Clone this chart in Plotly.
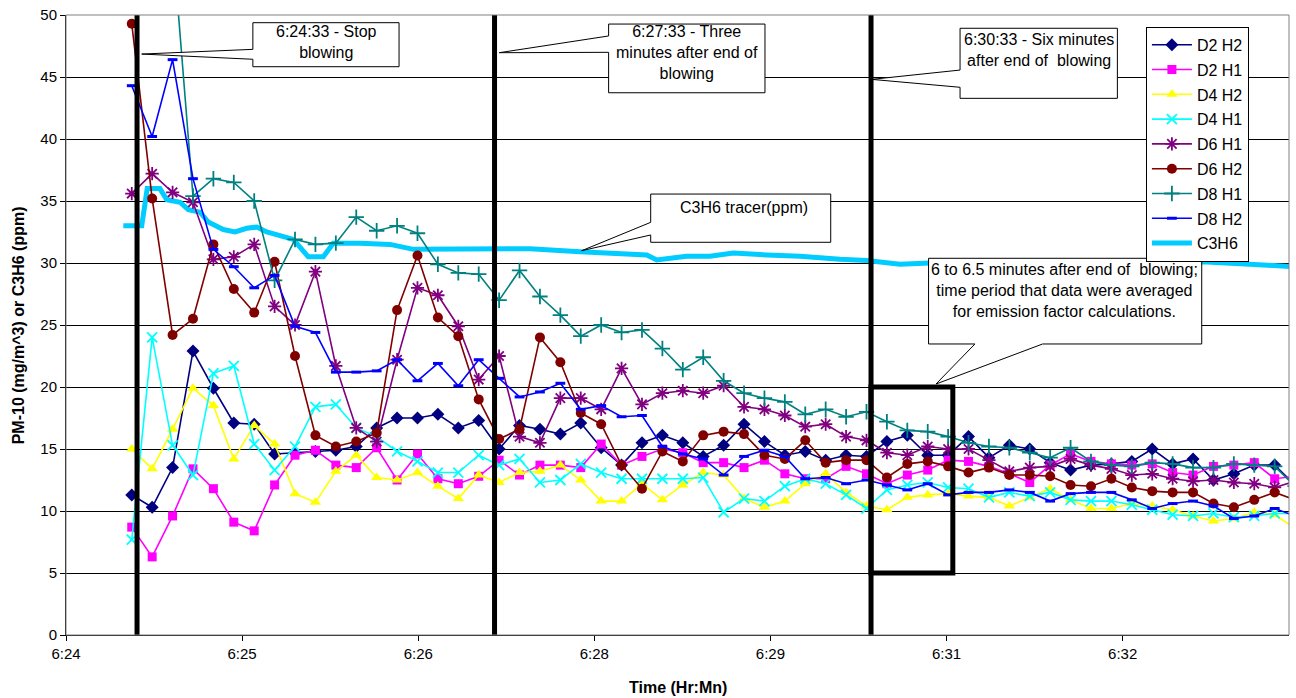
import plotly.graph_objects as go

# ---- sampling schedule (seconds after 6:24:00) ----
start_s = 33.6
step_s = 10.43

# ---- series values (PM-10 mg/m^3), one reading per sample ----
d2_h2 = [11.3, 10.3, 13.5, 22.9, 19.9, 17.1, 17.0, 14.6, 14.7, 14.8,
         14.9, 15.2, 16.7, 17.5, 17.5, 17.8, 16.7, 17.3, 15.0, 16.9,
         16.6, 16.2, 17.1, 15.1, 13.7, 15.5, 16.1, 15.5, 14.4, 15.3,
         17.0, 15.6, 14.5, 14.8, 14.1, 14.5, 14.4, 15.6, 16.1, 14.5,
         14.5, 16.0, 14.3, 15.3, 15.0, 13.9, 13.3, 13.7, 13.8, 14.0,
         15.0, 13.8, 14.2, 12.5, 13.0, 13.7, 13.7, 12.1]
d2_h1 = [8.7, 6.3, 9.6, 13.4, 11.8, 9.1, 8.4, 12.1, 14.5, 14.9,
         13.7, 13.5, 15.1, 12.5, 14.6, 12.6, 12.2, 12.8, 14.1, 12.9,
         13.7, 13.7, 13.5, 15.4, 13.7, 14.4, 15.0, 14.7, 13.9, 13.9,
         13.5, 14.1, 13.0, 12.6, 12.6, 13.6, 13.0, 12.2, 12.9, 13.3,
         14.1, 14.0, 13.6, 13.0, 12.3, 13.7, 14.6, 14.0, 13.8, 13.7,
         13.8, 13.1, 12.9, 13.6, 13.7, 13.9, 12.6, 12.8]
d4_h2 = [15.0, 13.4, 16.6, 19.9, 18.5, 14.2, 16.9, 15.4, 11.4, 10.7,
         13.2, 14.5, 12.7, 12.5, 13.1, 12.0, 11.0, 12.9, 12.3, 13.1,
         13.2, 13.7, 12.5, 10.8, 10.8, 12.2, 10.9, 12.1, 13.1, 12.9,
         11.0, 10.3, 10.8, 12.2, 13.0, 11.5, 10.4, 10.1, 11.1, 11.3,
         11.4, 11.2, 11.1, 10.4, 11.1, 11.8, 10.9, 10.2, 10.2, 10.6,
         10.4, 10.1, 9.6, 9.2, 9.4, 9.9, 9.7, 8.6]
d4_h1 = [7.7, 24.0, 15.3, 12.9, 21.1, 21.7, 15.4, 13.3, 15.2, 18.4,
         18.6, 16.7, 16.0, 14.8, 14.0, 13.1, 13.1, 14.5, 13.7, 14.2,
         12.3, 12.5, 13.8, 13.1, 12.6, 12.6, 12.6, 12.6, 12.7, 9.9,
         11.0, 10.8, 12.0, 12.6, 12.2, 11.3, 10.2, 11.7, 12.1, 12.3,
         11.9, 11.8, 11.1, 11.5, 11.2, 11.5, 10.9, 10.8, 10.8, 10.5,
         10.1, 9.7, 9.6, 9.8, 9.5, 9.6, 9.8, 9.8]
d6_h1 = [35.6, 37.2, 35.7, 34.9, 30.3, 30.5, 31.5, 26.5, 25.0, 29.3,
         21.7, 16.7, 15.6, 22.2, 28.0, 27.4, 24.9, 20.6, 22.5, 16.0,
         15.5, 19.1, 19.1, 18.2, 21.5, 18.6, 19.5, 19.7, 19.5, 20.1,
         18.4, 18.2, 17.7, 16.8, 17.0, 16.0, 15.7, 14.7, 14.5, 15.2,
         15.0, 15.0, 14.1, 13.2, 13.5, 13.6, 14.2, 13.7, 13.4, 12.9,
         13.0, 12.6, 12.4, 12.5, 12.3, 12.2, 11.9, 12.4]
d6_h2 = [49.3, 35.2, 24.2, 25.5, 31.5, 27.9, 26.0, 30.1, 22.5, 16.1,
         15.2, 15.6, 16.3, 26.2, 30.6, 25.6, 24.1, 19.0, 15.8, 16.6,
         24.0, 22.0, 17.9, 17.0, 13.7, 11.8, 14.8, 14.0, 16.1, 16.4,
         16.2, 14.5, 14.2, 15.7, 13.9, 14.1, 14.1, 12.7, 13.8, 14.0,
         13.6, 13.1, 13.5, 12.9, 12.9, 12.8, 12.1, 12.0, 12.6, 11.9,
         11.6, 11.5, 11.5, 10.6, 10.3, 10.9, 11.5, 10.9]
d8_h1 = [None, None, 56.0, 35.4, 36.8, 36.5, 35.0, 28.6, 31.9, 31.5,
         31.6, 33.7, 32.6, 33.0, 32.4, 29.9, 29.2, 29.1, 27.0, 29.4,
         27.3, 25.8, 24.1, 25.0, 24.4, 24.6, 23.1, 21.4, 22.4, 20.5,
         19.5, 19.1, 18.8, 17.8, 18.2, 17.6, 18.0, 17.2, 16.5, 16.4,
         16.0, 15.5, 15.2, 15.1, 14.7, 14.3, 15.1, 14.0, 13.7, 13.6,
         13.9, 13.8, 13.5, 13.5, 13.8, 13.7, 13.6, 12.0]
d8_h2 = [44.3, 40.2, 46.4, 36.8, 31.1, 29.7, 28.0, 29.0, 24.9, 24.4,
         21.2, 21.2, 21.3, 22.2, 20.5, 21.9, 20.1, 22.2, 20.7, 19.2,
         19.6, 20.3, 18.2, 18.5, 17.6, 17.7, 15.2, 14.6, 14.2, 12.9,
         14.4, 14.9, 14.4, 12.6, 12.7, 12.2, 12.5, 12.1, 11.7, 12.2,
         11.3, 11.5, 11.5, 11.7, 11.5, 10.8, 11.4, 11.5, 11.5, 10.9,
         10.2, 10.6, 10.8, 10.4, 9.4, 9.6, 10.2, 9.6]

# ---- C3H6 tracer (ppm), its own time base (seconds after 6:24:00) ----
c3h6_t = [29.3, 38.7, 41.5, 48.0, 51.5, 58.3, 62.5, 68.5, 72.7, 80.4,
          86.4, 92.3, 97.5, 102.6, 116.2, 123.8, 131.5, 136.6, 150.2, 165.6,
          177.5, 216.7, 237.1, 262.7, 296.8, 301.9, 308.7, 317.2, 329.1, 341.0,
          358.1, 375.1, 395.5, 409.2, 426.2, 441.5, 554.0, 580.4, 605.0, 628.0]
c3h6 = [33.0, 33.0, 36.0, 36.0, 35.1, 34.9, 34.3, 34.1, 33.3, 32.7,
        32.5, 32.8, 32.9, 32.5, 31.9, 30.5, 30.5, 31.6, 31.6, 31.5,
        31.1, 31.1, 31.15, 30.9, 30.65, 30.25, 30.4, 30.55, 30.55, 30.8,
        30.65, 30.55, 30.3, 30.2, 29.9, 30.0, 30.0, 30.1, 29.9, 29.7]

# ---- axis ticks ----
tick_s = [0, 90, 180, 270, 360, 450, 540]
tick_labels = ["6:24", "6:25", "6:26", "6:28", "6:29", "6:31", "6:32"]

FONT = "Liberation Sans, Arial, sans-serif"

n = len(d2_h2)
t = [start_s + step_s * i for i in range(n)]

series = [
    ("D2 H2", d2_h2, "#000080", "diamond", 10, False),
    ("D2 H1", d2_h1, "#FF00FF", "square", 9, False),
    ("D4 H2", d4_h2, "#FFFF00", "triangle-up", 10, False),
    ("D4 H1", d4_h1, "#00FFFF", "x-thin", 10, True),
    ("D6 H1", d6_h1, "#800080", "asterisk", 11, True),
    ("D6 H2", d6_h2, "#800000", "circle", 10, False),
    ("D8 H1", d8_h1, "#008080", "cross-thin", 11, True),
    ("D8 H2", d8_h2, "#0000FF", "line-ew", 7, True),
]

fig = go.Figure()

fig.add_trace(go.Scatter(
    x=c3h6_t, y=c3h6, name="C3H6", mode="lines",
    line=dict(color="#00CCFF", width=5), legendrank=2000, legendgroup="c3h6"))

for i, (name, vals, col, sym, size, open_sym) in enumerate(series):
    if open_sym:
        mk = dict(symbol=sym, size=size, color=col,
                  line=dict(color=col, width=3 if sym == "line-ew" else 1.8))
    else:
        mk = dict(symbol=sym, size=size, color=col, line=dict(width=0))
    fig.add_trace(go.Scatter(
        x=t, y=vals, name=name, mode="lines+markers",
        line=dict(color=col, width=1.6), marker=mk,
        connectgaps=False, legendrank=1000 + i, legendgroup=name))

shapes = []
# vertical event lines
for xv in [36.3, 219.0, 411.4]:
    shapes.append(dict(type="line", xref="x", yref="y", x0=xv, x1=xv, y0=0, y1=50,
                       line=dict(color="black", width=5), layer="above"))
# averaging window box
shapes.append(dict(type="rect", xref="x", yref="y", x0=411.4, x1=453.2, y0=5, y1=20,
                   line=dict(color="black", width=5), fillcolor="rgba(0,0,0,0)", layer="above"))


def left_callout(x0, x1, ytop, ybot, ahigh, alow, tip):
    p = (f"M {x0},{ytop} L {x1},{ytop} L {x1},{ybot} L {x0},{ybot} "
         f"L {x0},{alow} L {tip[0]},{tip[1]} L {x0},{ahigh} Z")
    return dict(type="path", xref="x", yref="y", path=p, fillcolor="white",
                line=dict(color="black", width=1), layer="above")


def bottom_callout(x0, x1, ytop, ybot, xa, xb, tip):
    p = (f"M {x0},{ytop} L {x1},{ytop} L {x1},{ybot} L {xb},{ybot} "
         f"L {tip[0]},{tip[1]} L {xa},{ybot} L {x0},{ybot} Z")
    return dict(type="path", xref="x", yref="y", path=p, fillcolor="white",
                line=dict(color="black", width=1), layer="above")


shapes.append(left_callout(95.5, 170.2, 49.38, 45.83, 47.23, 46.43, (38.7, 46.85)))
shapes.append(left_callout(277.3, 357.2, 49.27, 43.73, 48.31, 46.99, (221.4, 46.96)))
shapes.append(left_callout(456.9, 537.3, 48.93, 43.28, 45.56, 44.17, (411.7, 44.81)))
shapes.append(left_callout(298.8, 390.8, 35.56, 31.67, 33.28, 32.26, (263.5, 30.99)))
shapes.append(bottom_callout(440.8, 580.4, 30.38, 23.47, 464.5, 499.1, (444.6, 20.24)))
# outer plot frame (top/right gray)
shapes.append(dict(type="rect", xref="paper", yref="paper", x0=0, x1=1, y0=0, y1=1,
                   line=dict(color="#808080", width=1), layer="above"))

NB = "\u00a0"
annots = [
    dict(x=133.0, y=47.8, text="6:24:33 - Stop<br>blowing"),
    dict(x=317.4, y=46.94, text="6:27:33 - Three<br>minutes after end of<br>blowing"),
    dict(x=497.0, y=47.18, text=f"6:30:33 - Six minutes<br>after end of{NB} blowing"),
    dict(x=346.7, y=34.5, text="C3H6 tracer(ppm)"),
    dict(x=510.5, y=27.82, text=f"6 to 6.5 minutes after end of{NB} blowing;<br>time period that data were averaged<br>for emission factor calculations."),
]
annotations = []
for a in annots:
    annotations.append(dict(x=a["x"], y=a["y"], xref="x", yref="y", text=a["text"],
                            showarrow=False, align="center", xanchor="center", yanchor="middle",
                            font=dict(family=FONT, size=16, color="black")))
annotations.append(dict(x=0.5, y=-0.084, xref="paper", yref="paper", text="<b>Time (Hr:Mn)</b>",
                        showarrow=False, xanchor="center", yanchor="middle",
                        font=dict(family=FONT, size=16, color="black")))
annotations.append(dict(x=-0.039, y=0.5, xref="paper", yref="paper",
                        text="<b>PM-10 (mg/m^3) or C3H6 (ppm)</b>", textangle=-90,
                        showarrow=False, xanchor="center", yanchor="middle",
                        font=dict(family=FONT, size=16, color="black")))

fig.update_layout(
    width=1296, height=698,
    margin=dict(l=66, r=7, t=15, b=63),
    paper_bgcolor="white", plot_bgcolor="white",
    font=dict(family=FONT, size=15, color="black"),
    showlegend=True,
    legend=dict(x=0.883, y=0.981, xanchor="left", yanchor="top",
                bgcolor="white", bordercolor="black", borderwidth=1,
                font=dict(family=FONT, size=16, color="black"),
                itemwidth=40, tracegroupgap=1, traceorder="grouped"),
    shapes=shapes, annotations=annotations,
    xaxis=dict(range=[0, 625], tickmode="array", tickvals=tick_s, ticktext=tick_labels,
               showgrid=False, zeroline=False, showline=True, linecolor="black", linewidth=1,
               ticks="outside", ticklen=5, tickcolor="black",
               tickfont=dict(family=FONT, size=15, color="black")),
    yaxis=dict(range=[0, 50], dtick=5, tick0=0, showgrid=True, gridcolor="black", gridwidth=1,
               zeroline=False, showline=True, linecolor="black", linewidth=1,
               ticks="outside", ticklen=5, tickcolor="black",
               tickfont=dict(family=FONT, size=15, color="black")),
)

fig.write_html("out.html", config={"displayModeBar": False},
               post_script="document.body.style.margin='0px';")
